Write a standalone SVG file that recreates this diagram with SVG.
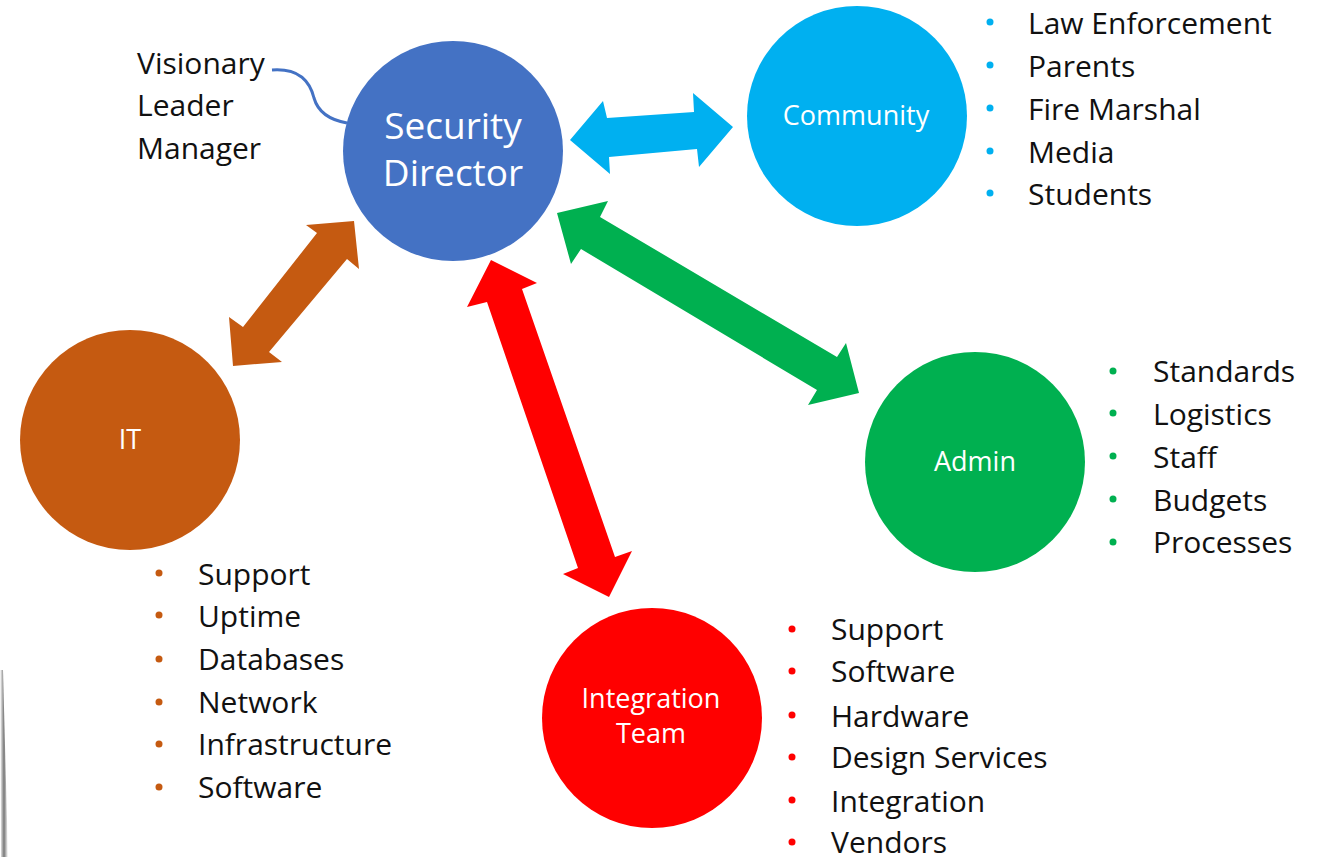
<svg xmlns="http://www.w3.org/2000/svg" width="1322" height="857" viewBox="0 0 1322 857">
<defs>
<style>
.lbl{font-family:"Open Sans","Liberation Sans",sans-serif;fill:#ffffff;text-anchor:middle}
.item{font-family:"Open Sans","Liberation Sans",sans-serif;font-size:30px;fill:#111111}
</style>
<linearGradient id="edge" x1="0" y1="0" x2="1" y2="0">
<stop offset="0" stop-color="#ffffff"/>
<stop offset="0.5" stop-color="#555555"/>
<stop offset="1" stop-color="#ffffff"/>
</linearGradient>
</defs>
<rect width="1322" height="857" fill="#ffffff"/>
<polygon points="0,670 3,670 8,857 1,857" fill="url(#edge)" opacity="0.8"/>
<g id="connectors">
<path d="M272,70 C300,68 310,82 314,98 C318,112 330,120 347,123" fill="none" stroke="#4472C4" stroke-width="3"/>
<polygon points="570,140 603,101 607,118 694,112 693,93 733,127 699,167 697,149 609,157 610,174" fill="#00B0F0"/>
<polygon points="354,221 359,269 347,259 269,352 282,362 233,366 229,317 243,327 317,233 306,225" fill="#C55A11"/>
<polygon points="491,260 537,283 522,289 615,557 632,551 609,597 563,574 578,568 487,302 467,307" fill="#FF0000"/>
<polygon points="557,213 608,201 600,217 837,357 846,343 859,393 808,405 817,390 581,249 571,264" fill="#00B050"/>
</g>
<g id="security-director">
<circle cx="453" cy="151" r="110" fill="#4472C4"/>
<text class="lbl" x="453" y="139" font-size="37">Security</text>
<text class="lbl" x="453" y="186" font-size="37">Director</text>
</g>
<g id="roles">
<text class="item" x="137" y="74">Visionary</text>
<text class="item" x="137" y="116">Leader</text>
<text class="item" x="137" y="159">Manager</text>
</g>
<g id="community">
<circle cx="857" cy="116" r="110" fill="#00B0F0"/>
<text class="lbl" x="856" y="125" font-size="27">Community</text>
</g>
<g id="community-list">
<g fill="#00B0F0"><circle cx="990" cy="22" r="3.5"/><circle cx="990" cy="65" r="3.5"/><circle cx="990" cy="108" r="3.5"/><circle cx="990" cy="151" r="3.5"/><circle cx="990" cy="193" r="3.5"/></g>
<text class="item" x="1028" y="34">Law Enforcement</text>
<text class="item" x="1028" y="77">Parents</text>
<text class="item" x="1028" y="120">Fire Marshal</text>
<text class="item" x="1028" y="163">Media</text>
<text class="item" x="1028" y="205">Students</text>
</g>
<g id="it">
<circle cx="130" cy="440" r="110" fill="#C55A11"/>
<text class="lbl" x="130" y="449" font-size="27">IT</text>
</g>
<g id="it-list">
<g fill="#C55A11"><circle cx="159" cy="573" r="3.5"/><circle cx="159" cy="615" r="3.5"/><circle cx="159" cy="659" r="3.5"/><circle cx="159" cy="702" r="3.5"/><circle cx="159" cy="744" r="3.5"/><circle cx="159" cy="787" r="3.5"/></g>
<text class="item" x="198" y="585">Support</text>
<text class="item" x="198" y="627">Uptime</text>
<text class="item" x="198" y="670">Databases</text>
<text class="item" x="198" y="713">Network</text>
<text class="item" x="198" y="755">Infrastructure</text>
<text class="item" x="198" y="798">Software</text>
</g>
<g id="admin">
<circle cx="975" cy="462" r="110" fill="#00B050"/>
<text class="lbl" x="975" y="471" font-size="27">Admin</text>
</g>
<g id="admin-list">
<g fill="#00B050"><circle cx="1113" cy="371" r="3.5"/><circle cx="1113" cy="413" r="3.5"/><circle cx="1113" cy="456" r="3.5"/><circle cx="1113" cy="499" r="3.5"/><circle cx="1113" cy="542" r="3.5"/></g>
<text class="item" x="1153" y="382">Standards</text>
<text class="item" x="1153" y="425">Logistics</text>
<text class="item" x="1153" y="468">Staff</text>
<text class="item" x="1153" y="511">Budgets</text>
<text class="item" x="1153" y="553">Processes</text>
</g>
<g id="integration-team">
<circle cx="652" cy="718" r="110" fill="#FF0000"/>
<text class="lbl" x="651" y="708" font-size="27">Integration</text>
<text class="lbl" x="651" y="743" font-size="27">Team</text>
</g>
<g id="integration-list">
<g fill="#FF0000"><circle cx="792" cy="629" r="3.5"/><circle cx="792" cy="671" r="3.5"/><circle cx="792" cy="715" r="3.5"/><circle cx="792" cy="757" r="3.5"/><circle cx="792" cy="800" r="3.5"/><circle cx="792" cy="842" r="3.5"/></g>
<text class="item" x="831" y="640">Support</text>
<text class="item" x="831" y="682">Software</text>
<text class="item" x="831" y="727">Hardware</text>
<text class="item" x="831" y="768">Design Services</text>
<text class="item" x="831" y="812">Integration</text>
<text class="item" x="831" y="853">Vendors</text>
</g>
</svg>
